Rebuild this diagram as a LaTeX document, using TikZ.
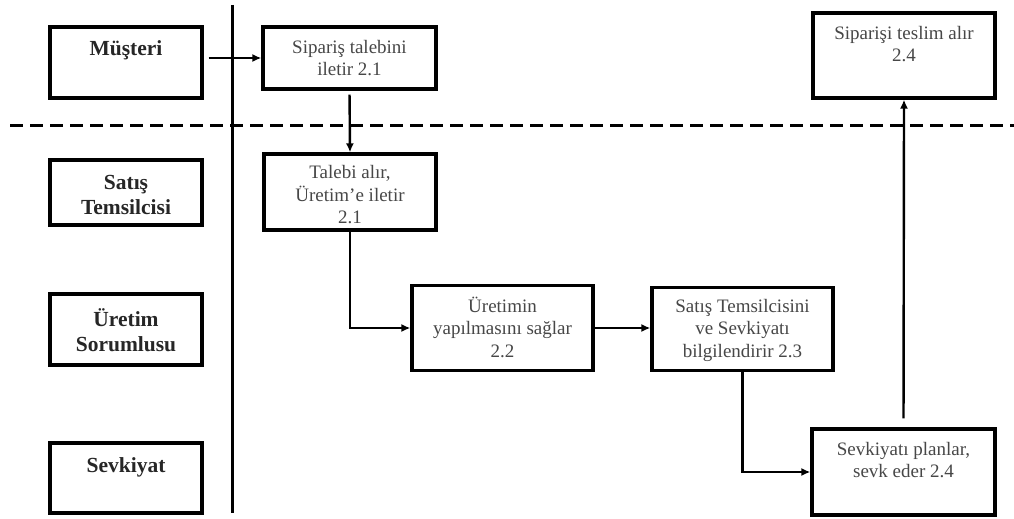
\documentclass[tikz,border=0pt]{standalone}
\usepackage{fontspec}
\setmainfont{Liberation Serif}
\usetikzlibrary{arrows.meta}
\definecolor{inkgray}{HTML}{474747}
\definecolor{labelgray}{HTML}{262626}
\tikzset{
  box/.style={draw=black, line width=3.2pt, fill=white, inner sep=0pt, rectangle},
  role/.style={inner sep=0pt, align=center, text=labelgray,
    font=\bfseries\fontsize{21.5}{24.5}\selectfont},
  task/.style={inner sep=0pt, align=center, text=inkgray,
    font=\fontsize{19}{22.5}\selectfont},
  conn/.style={line width=2.4pt, -{Latex[length=9pt,width=8pt]}},
  lane/.style={line width=3pt},
  split/.style={line width=3pt, dash pattern=on 13pt off 7pt}
}
\begin{document}
\begin{tikzpicture}[x=1pt, y=-1pt]
  \useasboundingbox (0,0) rectangle (1014,519);

  % swimlane separators
  \coordinate (laneTop) at (232,5);
  \coordinate (laneBot) at (232,513);
  \coordinate (splitL) at (10,125);
  \coordinate (splitR) at (1014,125);
  \draw[split] (splitL) -- (splitR);
  \draw[lane] (laneTop) -- (laneBot);

  % role boxes
  \node[box, minimum width=152, minimum height=71] (cust) at (126,62.5) {};
  \node[role] (custT) at (126,50) {Müşteri};
  \node[box, minimum width=152, minimum height=65] (sales) at (126,192.5) {};
  \node[role] (salesT) at (126,195) {Satış\\Temsilcisi};
  \node[box, minimum width=152, minimum height=71] (prod) at (126,329.5) {};
  \node[role] (prodT) at (126,330) {Üretim\\Sorumlusu};
  \node[box, minimum width=152, minimum height=70] (ship) at (126,478) {};
  \node[role] (shipT) at (126,467) {Sevkiyat};

  % task boxes
  \node[box, minimum width=173, minimum height=62] (b1) at (349.5,58) {};
  \node[task] (b1T) at (349.5,58) {Sipariş talebini\\iletir 2.1};
  \node[box, minimum width=172, minimum height=76] (b2) at (350,192) {};
  \node[task] (b2T) at (350,195) {Talebi alır,\\Üretim’e iletir\\2.1};
  \node[box, minimum width=181, minimum height=85] (b3) at (502.5,328) {};
  \node[task] (b3T) at (502.5,327) {Üretimin\\yapılmasını sağlar\\2.2};
  \node[box, minimum width=181, minimum height=83] (b4) at (742.5,329) {};
  \node[task] (b4T) at (742.5,330) {Satış Temsilcisini\\ve Sevkiyatı\\bilgilendirir 2.3};
  \node[box, minimum width=183, minimum height=86] (b5) at (903.5,472) {};
  \node[task] (b5T) at (903.5,460) {Sevkiyatı planlar,\\sevk eder 2.4};
  \node[box, minimum width=182, minimum height=85] (b6) at (904,55.5) {};
  \node[task] (b6T) at (904,44) {Siparişi teslim alır\\2.4};

  % flow
  \draw[conn, shorten <=5pt] (cust.east |- b1.west) -- (b1.west);
  \draw[conn, shorten <=4pt] (b1.south) -- (b2.north);
  \draw[conn] (b2.south) |- (b3.west);
  \draw[conn] (b3.east) -- (b3.east -| b4.west);
  \draw[conn] (b4.south) |- (b5.west);
  \draw[conn, shorten <=9pt] (b5.north) -- (b6.south);
\end{tikzpicture}
\end{document}
